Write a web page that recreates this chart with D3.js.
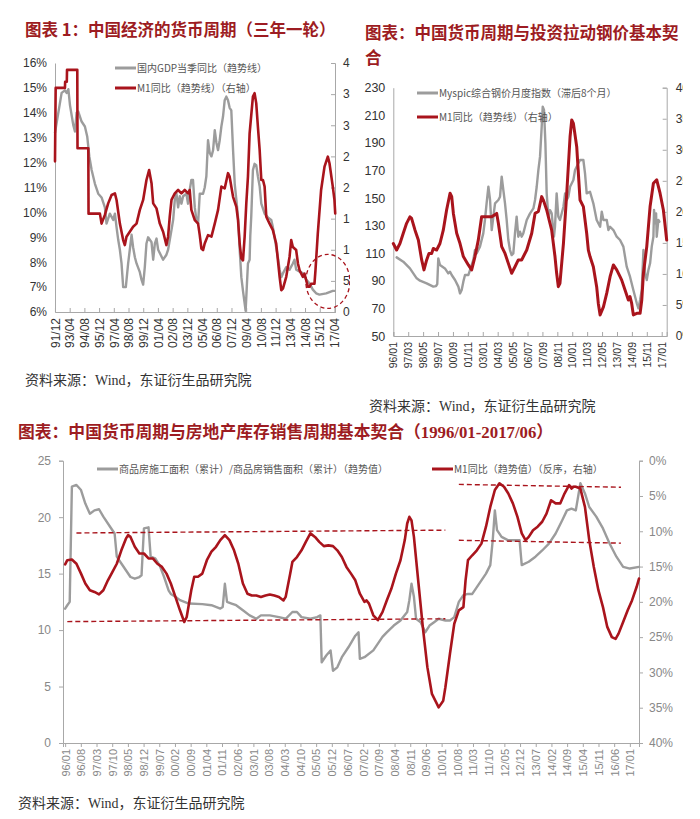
<!DOCTYPE html>
<html><head><meta charset="utf-8">
<script src="https://cdn.jsdelivr.net/npm/d3@7"></script>
<style>body{margin:0;background:#fff} svg{display:block}</style>
</head><body><svg id="c" width="700" height="819"></svg>
<script>
// ---------------- DATA ----------------
// Chart 1: 中国经济的货币周期
const labels1 = ["91/12","93/04","94/08","95/12","97/04","98/08","99/12","01/04","02/08","03/12","05/04","06/08","07/12","09/04","10/08","11/12","13/04","14/08","15/12","17/04"];
const gdpTicks1 = [6,7,8,9,10,11,12,13,14,15,16];
const m1Ticks1 = [0,5,10,15,20,25,30,35,40];
const gdpSeries = [[1991.92,13.2],[1992.52,14.8],[1992.82,14.9],[1992.97,14.8],[1993.13,14.95],[1993.28,14.3],[1993.58,13.5],[1993.73,13.25],[1993.88,14.0],[1994.03,14.05],[1994.33,13.65],[1994.63,13.45],[1994.84,13.05],[1995.03,12.25],[1995.24,11.7],[1995.54,11.15],[1995.84,10.75],[1996.14,10.6],[1996.44,10.2],[1996.59,9.55],[1996.89,9.95],[1997.2,9.7],[1997.35,9.95],[1997.5,9.4],[1997.65,8.9],[1997.8,8.5],[1997.95,7.95],[1998.1,7.0],[1998.34,7.0],[1998.55,7.95],[1998.7,8.5],[1998.86,9.1],[1999.0,8.6],[1999.16,8.2],[1999.31,7.95],[1999.61,7.6],[1999.76,7.3],[1999.91,7.1],[2000.06,7.8],[2000.21,8.75],[2000.36,9.0],[2000.67,8.8],[2000.82,8.1],[2000.97,8.75],[2001.12,8.95],[2001.27,8.5],[2001.72,8.1],[2002.02,8.3],[2002.17,8.5],[2002.48,9.3],[2002.63,9.7],[2002.78,10.5],[2002.93,10.75],[2003.08,10.2],[2003.23,10.65],[2003.38,10.35],[2003.53,10.65],[2003.83,10.75],[2003.98,10.35],[2004.13,10.9],[2004.28,11.3],[2004.43,11.3],[2004.59,10.2],[2004.74,9.7],[2004.89,9.55],[2005.04,10.75],[2005.34,10.75],[2005.49,11.0],[2005.64,11.45],[2005.79,12.9],[2005.94,12.4],[2006.1,12.25],[2006.25,12.5],[2006.4,13.3],[2006.55,12.8],[2006.7,12.5],[2006.85,12.9],[2007.0,13.45],[2007.15,13.85],[2007.3,14.5],[2007.45,14.65],[2007.6,14.5],[2007.75,14.2],[2007.9,14.1],[2008.06,12.5],[2008.21,11.15],[2008.36,10.5],[2008.51,9.8],[2008.66,8.5],[2008.81,7.4],[2008.96,6.85],[2009.11,6.35],[2009.2,6.05],[2009.32,7.15],[2009.41,7.95],[2009.56,8.1],[2009.62,9.05],[2009.71,9.85],[2009.86,11.7],[2010.01,11.95],[2010.16,11.9],[2010.31,11.45],[2010.47,11.05],[2010.62,10.35],[2010.92,9.95],[2011.22,9.8],[2011.52,9.7],[2011.67,9.4],[2011.97,8.6],[2012.12,8.2],[2012.28,7.7],[2012.43,7.4],[2012.58,7.55],[2012.88,7.8],[2013.18,7.7],[2013.48,7.95],[2013.63,8.1],[2013.78,7.7],[2014.39,7.55],[2014.69,7.3],[2014.99,7.15],[2015.29,6.9],[2015.59,6.75],[2015.89,6.7],[2016.5,6.75],[2016.8,6.8],[2017.1,6.85],[2017.25,6.85]];
const m1Series1 = [[1991.92,24.2],[1991.98,36.0],[1992.82,36.0],[1992.84,37.0],[1992.99,37.0],[1993.01,38.9],[1993.94,38.9],[1993.96,26.3],[1994.94,26.3],[1994.96,15.8],[1995.99,15.8],[1996.14,14.2],[1996.44,15.6],[1996.74,17.45],[1997.05,18.8],[1997.35,19.05],[1997.5,18.0],[1997.8,14.2],[1998.1,11.55],[1998.25,10.75],[1998.4,12.1],[1998.7,12.9],[1999.0,13.7],[1999.31,14.2],[1999.61,16.4],[1999.91,18.0],[2000.21,21.2],[2000.45,22.8],[2000.67,20.7],[2000.82,17.45],[2001.12,16.65],[2001.42,14.2],[2001.72,12.9],[2002.02,10.75],[2002.17,12.1],[2002.32,15.3],[2002.48,18.0],[2002.78,19.05],[2003.08,19.6],[2003.38,19.05],[2003.68,19.6],[2003.98,19.05],[2004.13,19.6],[2004.28,16.4],[2004.59,14.75],[2004.89,14.2],[2005.04,12.35],[2005.19,10.2],[2005.34,9.95],[2005.49,11.0],[2005.79,12.35],[2006.1,12.1],[2006.4,14.2],[2006.7,16.4],[2007.0,20.15],[2007.3,19.85],[2007.6,22.3],[2007.75,21.75],[2007.9,20.15],[2008.06,18.5],[2008.36,16.9],[2008.51,14.75],[2008.66,11.0],[2008.81,8.6],[2008.96,8.3],[2009.11,12.1],[2009.26,17.45],[2009.41,21.75],[2009.56,28.7],[2009.86,34.6],[2010.01,35.15],[2010.16,33.55],[2010.31,29.8],[2010.47,26.05],[2010.62,21.2],[2010.77,21.2],[2010.92,20.15],[2011.07,15.3],[2011.37,14.2],[2011.67,13.15],[2011.97,11.0],[2012.28,5.65],[2012.43,3.5],[2012.58,3.75],[2012.88,5.65],[2013.18,8.85],[2013.33,11.55],[2013.48,10.45],[2013.78,9.95],[2013.94,7.8],[2014.09,6.7],[2014.39,5.65],[2014.54,6.15],[2014.69,5.1],[2014.84,4.05],[2014.99,4.05],[2015.14,4.55],[2015.44,4.55],[2015.53,6.7],[2015.74,12.6],[2016.04,19.6],[2016.35,23.35],[2016.65,24.95],[2016.8,23.9],[2017.1,20.15],[2017.25,18.0],[2017.32,15.85]];

// Chart 2: 中国货币周期与投资拉动钢价
const labels2 = ["96/01","97/03","98/05","99/07","00/09","01/11","03/01","04/03","05/05","06/07","07/09","08/11","10/01","11/03","12/05","13/07","14/09","15/11","17/01"];
const steelTicks = [50,70,90,110,130,150,170,190,210,230];
const m1Ticks2 = [0,5,10,15,20,25,30,35,40];
const steelSeries = [[1996.26,107.0],[1996.78,103.9],[1997.3,99.0],[1997.83,91.8],[1998.09,90.1],[1998.61,88.2],[1999.13,85.8],[1999.34,86.2],[1999.44,87.7],[1999.52,106.3],[1999.65,101.5],[2000.04,99.0],[2000.3,95.4],[2000.44,96.6],[2000.57,94.2],[2000.83,90.6],[2001.09,85.8],[2001.22,80.9],[2001.35,83.3],[2001.48,89.4],[2001.61,94.2],[2001.87,94.2],[2002.0,97.8],[2002.26,105.1],[2002.39,112.3],[2002.52,109.9],[2002.78,114.8],[2003.04,124.4],[2003.17,134.1],[2003.3,146.2],[2003.44,158.2],[2003.57,148.6],[2003.7,126.8],[2003.83,136.5],[2003.96,146.2],[2004.22,148.6],[2004.35,151.0],[2004.48,165.5],[2004.61,155.8],[2004.74,146.2],[2004.87,134.1],[2005.0,119.6],[2005.13,112.3],[2005.26,108.7],[2005.39,109.9],[2005.52,124.4],[2005.65,136.5],[2005.78,122.0],[2005.91,125.6],[2006.04,122.0],[2006.17,124.4],[2006.44,134.1],[2006.7,138.9],[2006.96,142.5],[2007.09,148.6],[2007.22,158.2],[2007.35,170.3],[2007.48,180.0],[2007.61,201.7],[2007.69,216.2],[2007.79,213.8],[2007.9,189.7],[2008.0,153.4],[2008.13,136.5],[2008.26,141.3],[2008.39,138.9],[2008.52,126.8],[2008.57,122.0],[2008.65,129.2],[2008.78,153.4],[2008.91,136.5],[2009.04,134.1],[2009.31,143.7],[2009.44,153.4],[2009.57,148.6],[2009.7,151.0],[2009.83,158.2],[2010.09,163.1],[2010.22,170.3],[2010.48,175.2],[2010.61,177.6],[2010.87,177.6],[2011.0,167.9],[2011.13,153.4],[2011.39,154.6],[2011.65,146.2],[2011.91,134.1],[2012.18,129.2],[2012.31,140.1],[2012.44,134.1],[2012.7,134.1],[2012.83,126.8],[2012.96,129.2],[2013.22,126.8],[2013.48,122.0],[2013.74,119.6],[2014.0,114.8],[2014.13,107.5],[2014.26,100.3],[2014.52,93.0],[2014.78,83.3],[2015.05,73.7],[2015.18,70.1],[2015.31,76.1],[2015.44,83.3],[2015.57,112.3],[2015.7,95.4],[2015.83,90.6],[2015.96,97.8],[2016.09,102.7],[2016.22,114.8],[2016.35,122.0],[2016.4,141.3],[2016.48,131.7],[2016.56,138.9],[2016.61,122.0],[2016.74,134.1],[2016.82,132.9]];
const m1Series2 = [[1996.0,14.9],[1996.26,13.85],[1996.52,14.9],[1996.78,16.55],[1997.04,18.15],[1997.3,19.2],[1997.43,18.95],[1997.7,17.05],[1997.96,15.45],[1998.22,12.25],[1998.4,10.65],[1998.61,12.25],[1998.79,13.3],[1999.0,13.3],[1999.13,14.1],[1999.39,13.85],[1999.65,14.9],[1999.91,17.05],[2000.17,20.3],[2000.44,23.0],[2000.57,22.45],[2000.7,19.75],[2000.96,16.55],[2001.22,14.9],[2001.48,12.8],[2001.87,11.45],[2002.13,10.65],[2002.39,12.8],[2002.65,15.45],[2002.91,19.2],[2003.3,19.2],[2003.7,19.2],[2004.09,19.75],[2004.22,18.15],[2004.48,14.4],[2004.74,13.3],[2005.0,11.7],[2005.26,10.1],[2005.52,11.15],[2005.78,12.25],[2006.04,12.25],[2006.44,13.85],[2006.83,16.55],[2007.09,19.75],[2007.35,20.05],[2007.61,22.45],[2007.74,21.9],[2008.0,20.3],[2008.26,18.15],[2008.39,17.05],[2008.65,12.8],[2008.78,10.1],[2008.91,7.95],[2009.04,8.5],[2009.31,14.9],[2009.57,23.0],[2009.83,32.1],[2009.96,34.8],[2010.09,34.25],[2010.35,30.5],[2010.61,21.9],[2010.87,20.85],[2011.13,16.55],[2011.26,13.85],[2011.39,12.8],[2011.65,11.15],[2011.91,7.95],[2012.04,5.25],[2012.18,3.4],[2012.44,4.7],[2012.7,6.9],[2012.96,9.55],[2013.22,11.45],[2013.48,10.65],[2013.74,9.55],[2013.87,9.0],[2014.13,7.4],[2014.39,5.8],[2014.52,6.35],[2014.65,5.25],[2014.78,3.4],[2015.05,3.65],[2015.31,3.65],[2015.44,5.8],[2015.57,10.1],[2015.83,14.4],[2016.09,20.85],[2016.35,24.6],[2016.61,25.15],[2016.87,23.0],[2017.13,20.3],[2017.39,15.45]];

// Chart 3: 中国货币周期与房地产库存销售周期
const labels3 = ["96/01","96/08","97/03","97/10","98/05","98/12","99/07","00/02","00/09","01/04","01/11","02/06","03/01","03/08","04/03","04/10","05/05","05/12","06/07","07/02","07/09","08/04","08/11","09/06","10/01","10/08","11/03","11/10","12/05","12/12","13/07","14/02","14/09","15/04","15/11","16/06","17/01"];
const ratioTicks = [0,5,10,15,20,25];
const m1Ticks3 = [0,5,10,15,20,25,30,35,40];
const ratioSeries = [[1996.0,11.9],[1996.08,12.2],[1996.17,12.5],[1996.25,22.7],[1996.42,22.85],[1996.59,22.4],[1996.75,21.2],[1996.92,20.3],[1997.09,20.6],[1997.26,20.7],[1997.42,20.05],[1997.67,19.15],[1997.84,18.55],[1997.92,16.5],[1998.09,15.9],[1998.26,15.3],[1998.43,14.7],[1998.59,14.55],[1998.76,14.7],[1998.84,14.85],[1998.93,19.0],[1999.1,19.1],[1999.18,16.5],[1999.35,16.35],[1999.51,15.75],[1999.68,14.7],[1999.85,13.5],[1999.93,13.2],[2000.1,12.95],[2000.27,12.65],[2000.6,12.35],[2001.1,12.3],[2001.44,12.2],[2001.77,11.9],[2001.86,12.05],[2001.94,14.1],[2002.02,12.5],[2002.19,12.35],[2002.36,12.2],[2002.61,11.75],[2002.86,11.3],[2003.11,11.0],[2003.28,11.3],[2003.61,11.3],[2003.95,11.15],[2004.2,11.0],[2004.45,11.6],[2004.62,11.6],[2004.79,11.15],[2005.12,11.0],[2005.37,11.15],[2005.49,11.3],[2005.54,7.15],[2005.71,7.75],[2005.87,8.2],[2005.96,6.4],[2006.12,6.7],[2006.29,7.6],[2006.54,8.5],[2006.79,9.5],[2006.91,9.8],[2006.96,7.45],[2007.13,7.6],[2007.46,8.2],[2007.63,8.8],[2007.8,9.4],[2007.96,9.8],[2008.22,10.4],[2008.47,10.85],[2008.72,11.6],[2008.8,12.65],[2008.88,14.1],[2008.97,12.95],[2009.05,11.0],[2009.22,10.7],[2009.39,9.8],[2009.55,10.4],[2009.72,10.7],[2009.89,11.0],[2010.14,10.85],[2010.31,10.85],[2010.47,11.15],[2010.64,12.5],[2010.81,13.1],[2010.98,13.2],[2011.14,13.2],[2011.31,13.8],[2011.65,15.0],[2011.81,15.75],[2011.9,17.95],[2011.98,20.6],[2012.06,18.85],[2012.23,18.25],[2012.48,17.95],[2012.9,17.95],[2012.98,15.75],[2013.24,16.05],[2013.49,16.5],[2013.74,17.05],[2013.99,17.65],[2014.24,18.55],[2014.49,19.75],[2014.66,20.6],[2014.83,20.75],[2014.99,20.6],[2015.16,23.0],[2015.33,22.1],[2015.49,20.9],[2015.75,20.05],[2016.0,19.0],[2016.25,17.65],[2016.5,16.5],[2016.75,15.6],[2017.0,15.45],[2017.34,15.6]];
const m1Series3 = [[1996.0,14.7],[1996.08,14.1],[1996.25,14.0],[1996.42,14.6],[1996.59,16.0],[1996.75,17.4],[1996.92,18.35],[1997.09,18.6],[1997.26,18.95],[1997.42,18.35],[1997.59,16.95],[1997.76,15.75],[1997.92,14.6],[1998.09,12.7],[1998.26,11.05],[1998.34,10.55],[1998.43,10.8],[1998.59,12.2],[1998.76,13.15],[1998.93,13.15],[1999.1,13.85],[1999.26,13.85],[1999.43,14.6],[1999.6,15.05],[1999.77,16.0],[1999.93,17.4],[2000.1,19.3],[2000.27,21.2],[2000.43,22.85],[2000.52,22.15],[2000.69,18.35],[2000.8,16.45],[2000.94,16.45],[2001.1,16.0],[2001.27,14.1],[2001.44,12.9],[2001.61,12.2],[2001.77,11.25],[2001.94,10.55],[2002.11,11.25],[2002.28,12.7],[2002.44,14.6],[2002.61,17.4],[2002.78,18.85],[2002.94,19.1],[2003.11,19.1],[2003.28,19.3],[2003.45,19.1],[2003.61,18.95],[2003.78,19.1],[2003.95,19.3],[2004.12,19.8],[2004.2,19.3],[2004.37,16.0],[2004.45,14.35],[2004.62,13.65],[2004.79,12.7],[2004.95,11.5],[2005.12,10.3],[2005.29,10.8],[2005.45,11.5],[2005.62,12.1],[2005.79,12.0],[2005.96,12.1],[2006.12,12.7],[2006.29,13.65],[2006.46,15.05],[2006.63,16.0],[2006.79,16.95],[2006.96,18.85],[2007.13,20.0],[2007.21,19.8],[2007.3,20.25],[2007.46,21.9],[2007.63,22.6],[2007.8,21.45],[2007.96,19.8],[2008.13,18.15],[2008.3,16.0],[2008.47,14.1],[2008.63,11.25],[2008.72,8.9],[2008.8,7.95],[2008.88,8.45],[2008.97,10.8],[2009.14,17.4],[2009.3,23.55],[2009.47,29.25],[2009.64,33.05],[2009.89,34.95],[2010.06,34.0],[2010.14,32.1],[2010.31,27.35],[2010.47,23.1],[2010.64,21.2],[2010.81,20.75],[2010.89,16.95],[2010.98,14.1],[2011.14,13.4],[2011.31,12.7],[2011.48,11.75],[2011.65,9.35],[2011.81,6.55],[2011.98,4.15],[2012.15,3.2],[2012.32,3.7],[2012.48,4.65],[2012.65,6.05],[2012.82,7.95],[2012.98,10.3],[2013.12,11.25],[2013.24,10.8],[2013.4,9.85],[2013.57,9.35],[2013.74,8.65],[2013.9,7.5],[2014.07,5.6],[2014.24,6.05],[2014.41,6.05],[2014.57,4.65],[2014.74,3.45],[2014.83,3.95],[2014.91,3.7],[2014.99,3.7],[2015.16,3.95],[2015.33,6.55],[2015.49,11.25],[2015.66,15.05],[2015.83,18.35],[2016.0,20.75],[2016.16,23.55],[2016.33,25.0],[2016.47,25.25],[2016.58,24.5],[2016.75,22.85],[2016.92,21.2],[2017.08,19.8],[2017.25,17.9],[2017.34,16.7]];
// dashed reference lines (left-axis units): [x1, y1, x2, y2]
const refLines3 = [[1996.42,18.6,2010.14,18.85],[1996.08,10.75,2010.14,11.0],[2010.64,22.9,2016.67,22.65],[2010.64,17.95,2016.67,17.7]];

// ---------------- DRAW ----------------
const RED = "#a9141c", GRAY = "#9c9c9c", TITLE = "#9d1c22";
const CJK = "'Noto Sans CJK SC', sans-serif";
const LAT = "'Liberation Sans', Arial, sans-serif";
const svg = d3.select("#c");
const defs = svg.append("defs");
defs.append("clipPath").attr("id","clipA").append("rect").attr("x",0).attr("y",0).attr("width",350).attr("height",400);
defs.append("clipPath").attr("id","clipB").append("rect").attr("x",352).attr("y",0).attr("width",331).attr("height",400);

function parseLbl(s){ const [y,m] = s.split("/").map(Number); return (y<50?2000+y:1900+y) + (m-1)/12; }

function styleAxis(g, color, size){
  g.select(".domain").attr("stroke","#a8a8a8").attr("stroke-width",1);
  g.selectAll(".tick line").attr("stroke","#a8a8a8");
  g.selectAll("text").attr("fill",color).style("font-family",LAT).style("font-size",size+"px");
}
function addLine(g, data, x, y, color, w){
  g.append("path").datum(data)
    .attr("fill","none").attr("stroke",color).attr("stroke-width",w)
    .attr("stroke-linejoin","round").attr("stroke-linecap","round")
    .attr("d", d3.line().x(d=>x(d[0])).y(d=>y(d[1])));
}
function legend(g, x, y, color, w, text, size){
  g.append("line").attr("x1",x).attr("x2",x+21).attr("y1",y).attr("y2",y).attr("stroke",color).attr("stroke-width",w);
  g.append("text").attr("x",x+22).attr("y",y).attr("dy","0.35em").attr("fill","#555")
    .style("font-family",CJK).style("font-size",size+"px").text(text);
}
function rotLabels(g, off, labels){
  g.selectAll("text").attr("transform","rotate(-90)").attr("text-anchor","end")
   .attr("x",-off).attr("y",0).attr("dy","0.35em").text((d,i)=>labels[i]);
}

// ===== Chart 1 =====
{
  const g = svg.append("g").attr("clip-path","url(#clipA)");
  g.append("text").attr("x",25).attr("y",36).attr("fill",TITLE).style("font-family",CJK)
    .style("font-weight","bold").style("font-size","16.5px").text("图表 1：中国经济的货币周期（三年一轮）");
  const x = d3.scaleLinear().domain([1991.92,2017.3]).range([55,335]);
  const yL = d3.scaleLinear().domain([6,16]).range([312,63]);
  const yR = d3.scaleLinear().domain([0,40]).range([312,63]);
  const ax = g.append("g").attr("transform","translate(0,312)")
    .call(d3.axisBottom(x).tickValues(labels1.map(parseLbl)).tickSize(-4).tickPadding(0));
  styleAxis(ax,"#333",12); rotLabels(ax,6,labels1);
  const al = g.append("g").attr("transform","translate(55,0)")
    .call(d3.axisLeft(yL).tickValues(gdpTicks1).tickFormat(d=>d+"%").tickSize(0).tickPadding(8));
  styleAxis(al,"#333",12);
  const ar = g.append("g").attr("transform","translate(335,0)")
    .call(d3.axisRight(yR).tickValues(m1Ticks1).tickFormat(d=>d+"%").tickSize(-4).tickPadding(8));
  styleAxis(ar,"#333",12);
  addLine(g, gdpSeries, x, yL, GRAY, 2.4);
  addLine(g, m1Series1, x, yR, RED, 2.6);
  g.append("ellipse").attr("cx",x(2016.65)).attr("cy",yL(7.23)).attr("rx",22).attr("ry",27)
    .attr("fill","none").attr("stroke",RED).attr("stroke-width",1.3).attr("stroke-dasharray","4,3");
  legend(g,115,68,GRAY,3,"国内GDP当季同比（趋势线）",10);
  legend(g,115,88,RED,3,"M1同比（趋势线）（右轴）",10);
  svg.append("text").attr("x",25).attr("y",385).attr("fill","#333")
    .style("font-family","'Liberation Serif', 'Noto Sans CJK SC', serif").style("font-size","14px")
    .text("资料来源：Wind，东证衍生品研究院");
}

// ===== Chart 2 =====
{
  const g = svg.append("g").attr("clip-path","url(#clipB)");
  g.append("text").attr("x",365).attr("y",39).attr("fill",TITLE).style("font-family",CJK)
    .style("font-weight","bold").style("font-size","16.5px").text("图表：中国货币周期与投资拉动钢价基本契");
  g.append("text").attr("x",365).attr("y",64).attr("fill",TITLE).style("font-family",CJK)
    .style("font-weight","bold").style("font-size","16.5px").text("合");
  const x = d3.scaleLinear().domain([1996.0,2017.39]).range([393.3,666.7]);
  const yL = d3.scaleLinear().domain([50,230]).range([336,87.7]);
  const yR = d3.scaleLinear().domain([0,40]).range([336,87.7]);
  const ax = g.append("g").attr("transform","translate(0,336)")
    .call(d3.axisBottom(x).tickValues(labels2.map(parseLbl)).tickSize(-4).tickPadding(0));
  styleAxis(ax,"#333",10.5); rotLabels(ax,6,labels2);
  const al = g.append("g").attr("transform","translate(393.3,0)")
    .call(d3.axisLeft(yL).tickValues(steelTicks).tickSize(0).tickPadding(8));
  styleAxis(al,"#333",12.5);
  const ar = g.append("g").attr("transform","translate(666.7,0)")
    .call(d3.axisRight(yR).tickValues(m1Ticks2).tickFormat(d=>d+"%").tickSize(-4).tickPadding(9));
  styleAxis(ar,"#333",12);
  addLine(g, steelSeries, x, yL, GRAY, 2.4);
  addLine(g, m1Series2, x, yR, RED, 3);
  legend(g,417,93,GRAY,3,"Myspic综合钢价月度指数（滞后8个月）",10);
  legend(g,417,117,RED,3,"M1同比（趋势线）（右轴）",10);
  svg.append("text").attr("x",369).attr("y",411).attr("fill","#333")
    .style("font-family","'Liberation Serif', 'Noto Sans CJK SC', serif").style("font-size","14px")
    .text("资料来源：Wind，东证衍生品研究院");
}

// ===== Chart 3 =====
{
  const g = svg.append("g");
  g.append("text").attr("x",18).attr("y",438).attr("fill",TITLE)
    .style("font-family","'Liberation Serif','Noto Sans CJK SC', serif")
    .style("font-weight","bold").style("font-size","16.8px").text("图表：中国货币周期与房地产库存销售周期基本契合（1996/01-2017/06）");
  const x = d3.scaleLinear().domain([1995.92,2017.34]).range([63,639]);
  const yL = d3.scaleLinear().domain([0,25]).range([743,460.7]);
  const yR = d3.scaleLinear().domain([0,40]).range([460.7,743]);
  const ax = g.append("g").attr("transform","translate(0,743)")
    .call(d3.axisBottom(x).tickValues(labels3.map(parseLbl)).tickSize(4).tickPadding(0));
  styleAxis(ax,"#888",11); rotLabels(ax,6,labels3);
  const al = g.append("g").attr("transform","translate(63,0)")
    .call(d3.axisLeft(yL).tickValues(ratioTicks).tickSize(4).tickPadding(8));
  styleAxis(al,"#888",12);
  const ar = g.append("g").attr("transform","translate(639,0)")
    .call(d3.axisRight(yR).tickValues(m1Ticks3).tickFormat(d=>d+"%").tickSize(4).tickPadding(6));
  styleAxis(ar,"#888",12);
  addLine(g, ratioSeries, x, yL, GRAY, 2.4);
  addLine(g, m1Series3, x, yR, RED, 2.6);
  g.selectAll(".ref").data(refLines3).enter().append("line")
    .attr("x1",d=>x(d[0])).attr("y1",d=>yL(d[1])).attr("x2",d=>x(d[2])).attr("y2",d=>yL(d[3]))
    .attr("stroke",RED).attr("stroke-width",1.4).attr("stroke-dasharray","5,3");
  legend(g,97,469,GRAY,3,"商品房施工面积（累计）/商品房销售面积（累计）（趋势值）",10);
  legend(g,432,469,RED,3,"M1同比（趋势值）（反序，右轴）",10);
  svg.append("text").attr("x",18).attr("y",808).attr("fill","#333")
    .style("font-family","'Liberation Serif', 'Noto Sans CJK SC', serif").style("font-size","14px")
    .text("资料来源：Wind，东证衍生品研究院");
}
</script></body></html>
